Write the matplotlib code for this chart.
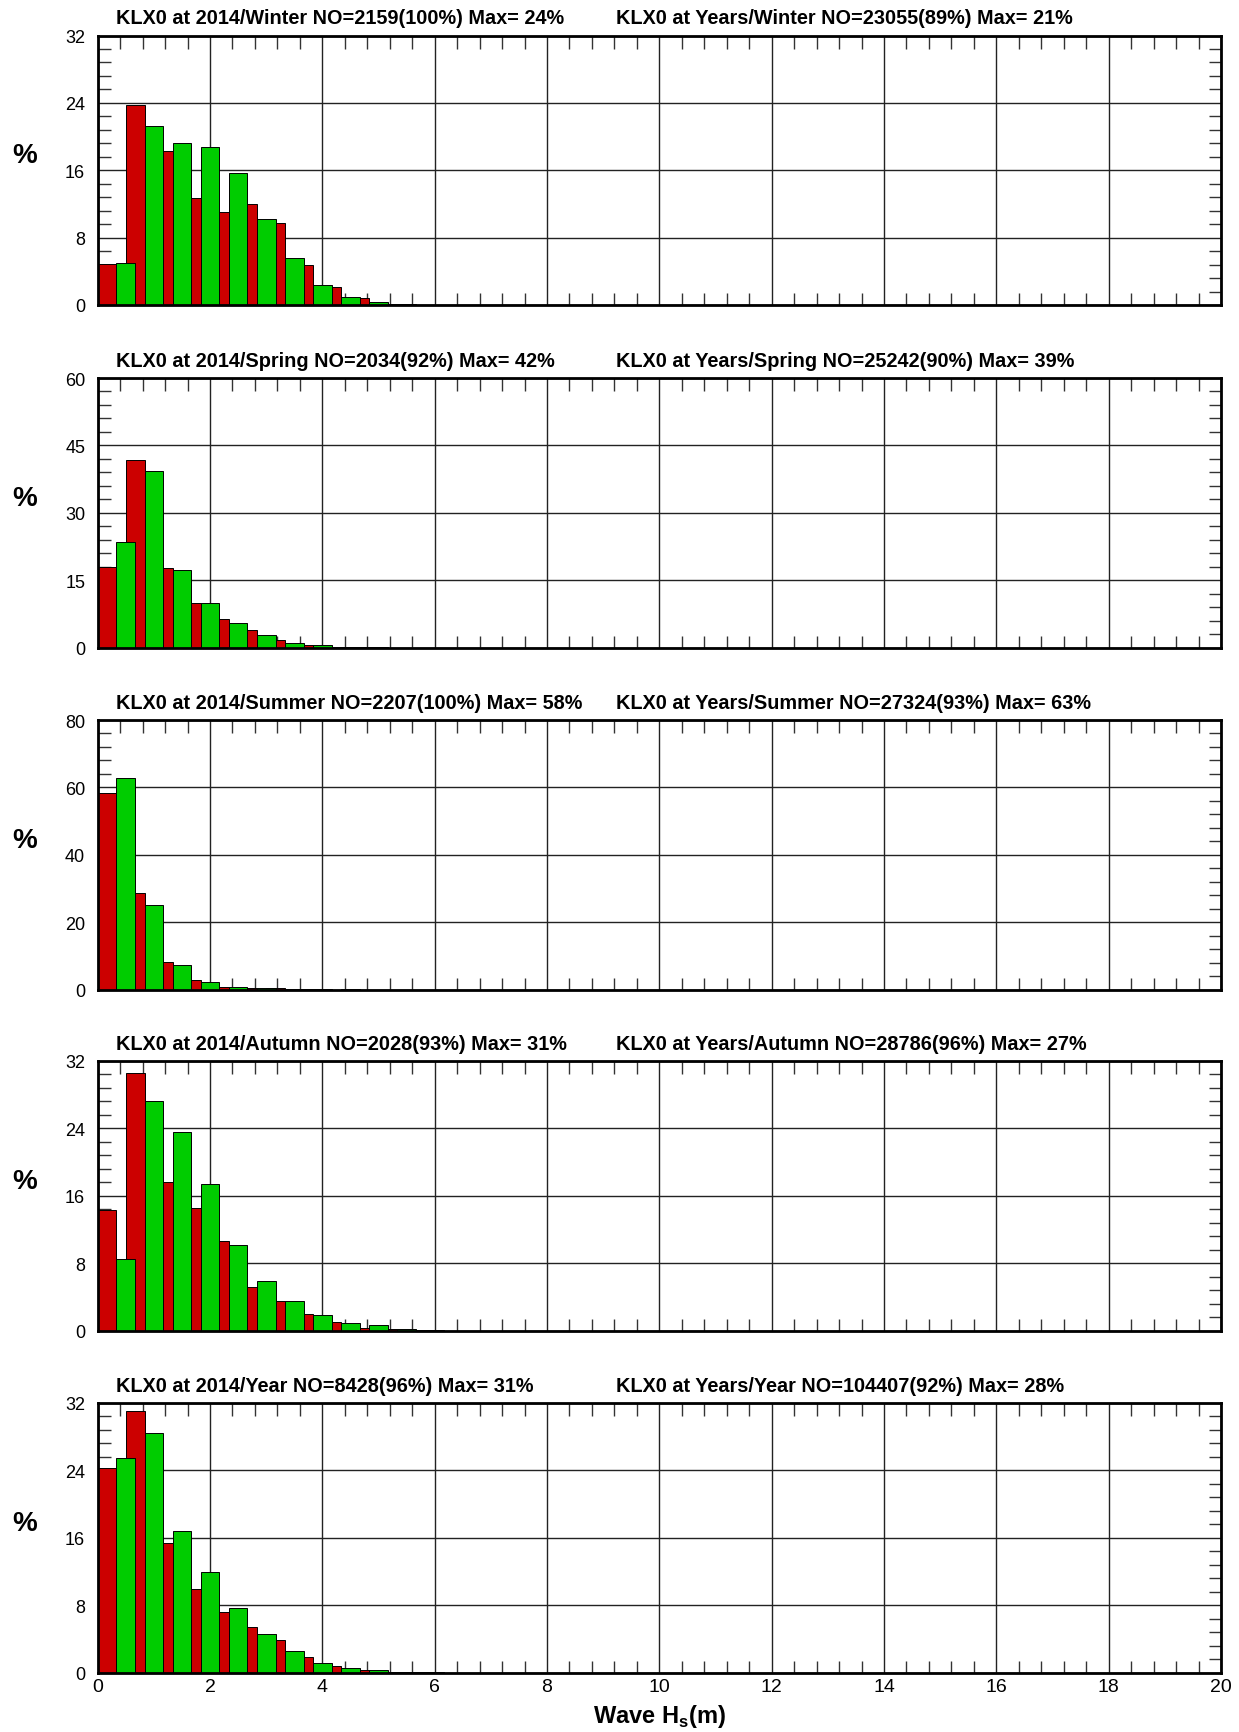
import numpy as np
import matplotlib
matplotlib.use('Agg')
import matplotlib.pyplot as plt
from matplotlib.ticker import MultipleLocator

plt.rcParams['font.family'] = ['Liberation Sans', 'DejaVu Sans']
plt.rcParams['mathtext.fontset'] = 'custom'
plt.rcParams['mathtext.bf'] = 'Liberation Sans:bold'
plt.rcParams['mathtext.rm'] = 'Liberation Sans:bold'

# lower edge of each Hs bin (m)
hs_bins = [0.0, 0.5, 1.0, 1.5, 2.0, 2.5, 3.0, 3.5, 4.0, 4.5, 5.0, 5.5]

seasons = ['Winter', 'Spring', 'Summer', 'Autumn', 'Year']

# 2014 distribution (%)
pct_2014_winter = [4.9, 23.8, 18.3, 12.7, 11.0, 12.0, 9.7, 4.7, 2.1, 0.8, 0.1, 0.05]
pct_2014_spring = [17.9, 41.8, 17.6, 10.0, 6.3, 3.8, 1.6, 0.6, 0.2, 0.05, 0.0, 0.0]
pct_2014_summer = [58.3, 28.5, 8.2, 2.7, 0.8, 0.4, 0.4, 0.1, 0.0, 0.0, 0.0, 0.0]
pct_2014_autumn = [14.3, 30.6, 17.6, 14.6, 10.6, 5.2, 3.5, 2.0, 1.0, 0.35, 0.2, 0.05]
pct_2014_year = [24.3, 31.0, 15.4, 9.9, 7.15, 5.4, 3.8, 1.8, 0.8, 0.28, 0.1, 0.03]

# all-years distribution (%)
pct_years_winter = [5.0, 21.3, 19.2, 18.8, 15.7, 10.2, 5.6, 2.4, 1.0, 0.4, 0.15, 0.05]
pct_years_spring = [23.4, 39.4, 17.2, 10.0, 5.4, 2.7, 1.1, 0.45, 0.2, 0.05, 0.0, 0.0]
pct_years_summer = [62.8, 25.2, 7.3, 2.3, 0.8, 0.3, 0.2, 0.1, 0.03, 0.0, 0.0, 0.0]
pct_years_autumn = [8.5, 27.3, 23.6, 17.4, 10.2, 5.85, 3.5, 1.8, 0.9, 0.6, 0.15, 0.05]
pct_years_year = [25.5, 28.4, 16.8, 11.9, 7.7, 4.6, 2.5, 1.15, 0.55, 0.28, 0.1, 0.03]

titles_2014 = ['KLX0 at 2014/Winter NO=2159(100%) Max= 24%',
               'KLX0 at 2014/Spring NO=2034(92%) Max= 42%',
               'KLX0 at 2014/Summer NO=2207(100%) Max= 58%',
               'KLX0 at 2014/Autumn NO=2028(93%) Max= 31%',
               'KLX0 at 2014/Year NO=8428(96%) Max= 31%']
titles_years = ['KLX0 at Years/Winter NO=23055(89%) Max= 21%',
                'KLX0 at Years/Spring NO=25242(90%) Max= 39%',
                'KLX0 at Years/Summer NO=27324(93%) Max= 63%',
                'KLX0 at Years/Autumn NO=28786(96%) Max= 27%',
                'KLX0 at Years/Year NO=104407(92%) Max= 28%']

y_max = [32, 60, 80, 32, 32]
y_major = [8, 15, 20, 8, 8]

data_2014 = [pct_2014_winter, pct_2014_spring, pct_2014_summer, pct_2014_autumn, pct_2014_year]
data_years = [pct_years_winter, pct_years_spring, pct_years_summer, pct_years_autumn, pct_years_year]

W, H = 1239, 1733
fig = plt.figure(figsize=(W / 100, H / 100), dpi=100)

left = 97.7 / W
width = (1221 - 97.7) / W
tops = [36.5, 379, 721, 1062, 1404]
ax_h = 269.5

bw = 1.0 / 3.0
x = np.array(hs_bins)

for i in range(5):
    ax = fig.add_axes([left, 1 - (tops[i] + ax_h) / H, width, ax_h / H])
    ax.bar(x, data_2014[i], width=bw, align='edge', color='#cc0000',
           edgecolor='black', linewidth=0.7, zorder=3)
    ax.bar(x + bw, data_years[i], width=bw, align='edge', color='#00cc00',
           edgecolor='black', linewidth=0.7, zorder=4)

    ax.set_xlim(0, 20)
    ax.set_ylim(0, y_max[i])
    ax.xaxis.set_major_locator(MultipleLocator(2))
    ax.xaxis.set_minor_locator(MultipleLocator(0.4))
    ax.yaxis.set_major_locator(MultipleLocator(y_major[i]))
    ax.yaxis.set_minor_locator(MultipleLocator(y_major[i] / 5))
    ax.grid(True, which='major', color='#222222', linewidth=1.0, zorder=1)
    ax.set_axisbelow(True)
    ax.tick_params(which='both', direction='in', top=True, right=True,
                   width=1.0, color='#333333')
    ax.tick_params(which='major', length=0)
    ax.tick_params(which='minor', length=9)
    ax.tick_params(axis='y', labelsize=13, pad=9)
    ax.tick_params(axis='x', labelsize=14, pad=4)
    for s in ax.spines.values():
        s.set_linewidth(2.0)
        s.set_zorder(6)

    if i < 4:
        ax.set_xticklabels([])
    else:
        ax.set_xlabel(r'Wave H$_\mathbf{s}$(m)', fontsize=17, fontweight='bold', labelpad=5)

    ax.text(-0.065, 0.555, '%', transform=ax.transAxes, fontsize=20,
            fontweight='bold', ha='center', va='center')
    ax.text(0.0163, 1.045, titles_2014[i], transform=ax.transAxes,
            fontsize=14.3, fontweight='bold', ha='left', va='baseline')
    ax.text(0.461, 1.045, titles_years[i], transform=ax.transAxes,
            fontsize=14.3, fontweight='bold', ha='left', va='baseline')

fig.savefig('out.png', dpi=100)
